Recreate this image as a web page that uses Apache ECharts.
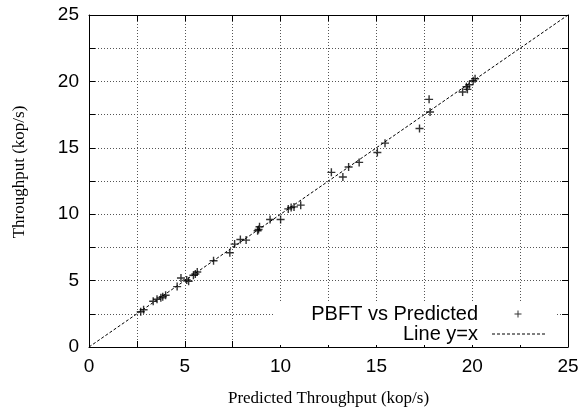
<!DOCTYPE html>
<html>
<head>
<meta charset="utf-8">
<script src="https://cdn.jsdelivr.net/npm/echarts@6/dist/echarts.min.js"></script>
<style>
  html, body { margin: 0; padding: 0; background: #fff; }
  #chart { width: 585px; height: 414px; }
</style>
</head>
<body>
<div id="chart"></div>
<script>
// predicted throughput (x) vs measured PBFT throughput (y), kop/s
var predicted = [2.7, 2.85, 3.35, 3.55, 3.75, 3.85, 4.0, 4.6, 4.8, 5.1, 5.2, 5.45, 5.55, 5.65, 6.5,
  7.35, 7.6, 7.9, 8.2, 8.8, 8.85, 8.9, 9.45, 10.0, 10.4, 10.55, 10.7, 11.05,
  12.65, 13.25, 13.55, 14.1, 15.05, 15.45, 17.25, 17.75, 17.8, 19.5, 19.75, 19.7, 19.85, 20.05, 20.15]
var measured = [2.65, 2.8, 3.45, 3.6, 3.7, 3.78, 3.9, 4.55, 5.2, 5.05, 4.95, 5.4, 5.5, 5.65, 6.5,
  7.1, 7.75, 8.1, 8.05, 8.75, 8.85, 9.05, 9.6, 9.6, 10.4, 10.5, 10.55, 10.68,
  13.15, 12.8, 13.55, 13.9, 14.65, 15.35, 16.45, 18.65, 17.7, 19.2, 19.4, 19.6, 19.75, 20.05, 20.2]
var lineEnds = [0, 25]
var axisMin = 0, axisMax = 25, tickStep = 2.5, labelStep = 5

var seriesNames = ['PBFT vs Predicted', 'Line y=x']

var points = predicted.map(function (x, i) { return [x, measured[i]] })
var diag = lineEnds.map(function (v) { return [v, v] })

// '+' marker
var plusPath = 'path://M3.3,0h1.4v3.3h3.3v1.4h-3.3v3.3h-1.4v-3.3h-3.3v-1.4h3.3z'
// legend icons, 63x8 boxes (the lone moves fix the bounds)
var legendPlus = 'path://M0,0M63,8M34.5,0.5h1v3h3v1h-3v3h-1v-3h-3v-1h3z'
var legendDash = 'path://M0,0M63,8'
for (var d = 9; d < 62; d += 5) {
  legendDash += 'M' + d + ',3.5h3v1h-3z'
}

var sans = 'Liberation Sans'
var serif = 'Liberation Serif'

function baseAxis (pos, main) {
  return {
    type: 'value',
    position: pos,
    min: axisMin,
    max: axisMax,
    interval: tickStep,
    axisLine: { show: true, onZero: false, lineStyle: { color: '#000', width: 1 } },
    axisTick: { show: true, inside: true, length: 6, lineStyle: { color: '#000' } },
    axisLabel: {
      show: main,
      color: '#000',
      fontFamily: sans,
      fontSize: 19,
      margin: 10,
      formatter: function (v) { return v % labelStep === 0 ? String(v) : '' }
    },
    splitLine: {
      show: main,
      lineStyle: { color: '#555', width: 1, type: [1, 2] }
    }
  }
}

var xMain = baseAxis('bottom', true)
xMain.name = 'Predicted Throughput (kop/s)'
xMain.nameLocation = 'middle'
xMain.nameGap = 43
xMain.nameTextStyle = { fontFamily: serif, fontSize: 17, color: '#000' }

var yMain = baseAxis('left', true)
yMain.name = 'Throughput (kop/s)'
yMain.nameLocation = 'middle'
yMain.nameGap = 61
yMain.nameTextStyle = { fontFamily: serif, fontSize: 17, color: '#000', padding: [0, 0, 0, 18] }

var option = {
  backgroundColor: '#fff',
  animation: false,
  grid: { left: 89, right: 17, top: 15, bottom: 67, containLabel: false, outerBoundsMode: 'none' },
  xAxis: [xMain, baseAxis('top', false)],
  yAxis: [yMain, baseAxis('right', false)],
  legend: {
    orient: 'vertical',
    align: 'right',
    right: 28,
    top: 303,
    itemWidth: 63,
    itemHeight: 8,
    itemGap: 0,
    padding: [1, 11, 1, 37],
    backgroundColor: '#fff',
    itemStyle: { borderWidth: 0 },
    textStyle: { fontFamily: sans, fontSize: 20, color: '#000', lineHeight: 20 },
    data: [
      { name: seriesNames[0], icon: legendPlus, itemStyle: { color: '#000', borderWidth: 0 } },
      { name: seriesNames[1], icon: legendDash, itemStyle: { color: '#000', borderWidth: 0 } }
    ]
  },
  series: [
    {
      name: seriesNames[0],
      type: 'scatter',
      data: points,
      symbol: plusPath,
      symbolSize: 8,
      itemStyle: { color: '#000' },
      z: 3
    },
    {
      name: seriesNames[1],
      type: 'line',
      data: diag,
      symbol: 'none',
      itemStyle: { color: '#000' },
      lineStyle: { color: '#000', width: 1, type: [3, 2] },
      z: 2
    }
  ]
}

var chart = echarts.init(document.getElementById('chart'), null, { renderer: 'canvas' })
chart.setOption(option)
</script>
</body>
</html>
